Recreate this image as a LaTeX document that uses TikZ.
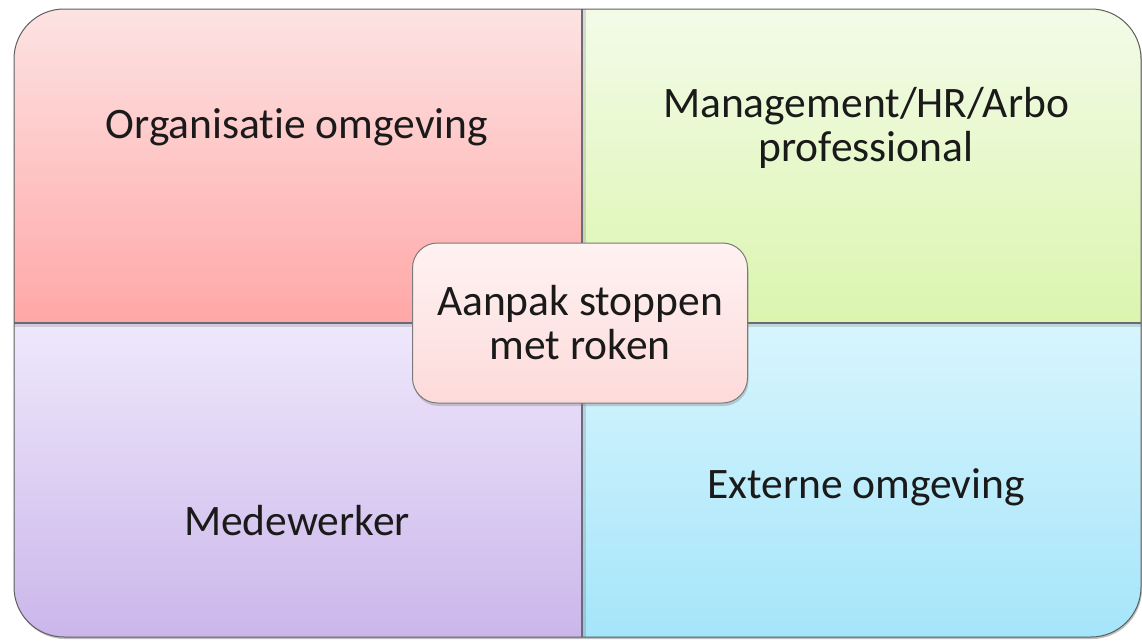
\documentclass[tikz,border=0pt]{standalone}
\usepackage{fontspec}
\setmainfont[Ligatures=NoCommon]{Carlito}
\usetikzlibrary{shadows}
\definecolor{textgray}{HTML}{1A1A1A}
\definecolor{framegray}{HTML}{5E5E5E}
\definecolor{divgray}{HTML}{6A6A78}
\definecolor{boxgray}{HTML}{7A7A7A}
\definecolor{orgtop}{HTML}{FDE3E3}
\definecolor{orgbot}{HTML}{FFA7A7}
\definecolor{mgmtop}{HTML}{F3FBE8}
\definecolor{mgmbot}{HTML}{DBF5AE}
\definecolor{medtop}{HTML}{EEE8FC}
\definecolor{medbot}{HTML}{CBB6EA}
\definecolor{exttop}{HTML}{D8F5FD}
\definecolor{extbot}{HTML}{A5E5FA}
\definecolor{boxtop}{HTML}{FFF2F2}
\definecolor{boxbot}{HTML}{FDDADA}
\begin{document}
\begin{tikzpicture}[
    x=1pt, y=-1pt,
    every node/.style={font=\fontsize{43.5}{44}\selectfont, text=textgray, inner sep=0pt},
    label text/.style={align=center, anchor=base},
    frame/.style={draw=framegray, line width=1pt, rounded corners=50pt},
    divider/.style={draw=divgray, line width=1.6pt},
    divider shade/.style={draw=black, opacity=0.12, line width=3pt},
    center box/.style={draw=boxgray, line width=1pt, rounded corners=25pt,
        top color=boxtop, bottom color=boxbot, minimum width=335pt,
        minimum height=160pt, align=center,
        drop shadow={shadow xshift=1pt, shadow yshift=-3pt, opacity=0.35}}
]
\useasboundingbox (0,0) rectangle (1142,640);
\coordinate (nw) at (14,9);
\coordinate (se) at (1141,637);
\coordinate (mid) at (582,323);

\fill[black, opacity=0.25, rounded corners=50pt] ([xshift=1pt, yshift=-2pt]nw) rectangle ([xshift=1pt, yshift=-2pt]se);
\begin{scope}
    \clip[rounded corners=50pt] (nw) rectangle (se);
    \shade[top color=orgtop, bottom color=orgbot] (nw) rectangle (mid);
    \shade[top color=mgmtop, bottom color=mgmbot] (mid |- nw) rectangle (se |- mid);
    \shade[top color=medtop, bottom color=medbot] (nw |- mid) rectangle (mid |- se);
    \shade[top color=exttop, bottom color=extbot] (mid) rectangle (se);
    \draw[divider shade] ([yshift=-2pt]nw |- mid) -- ([yshift=-2pt]se |- mid);
    \draw[divider shade] ([xshift=2pt]mid |- nw) -- ([xshift=2pt]mid |- se);
    \draw[divider] (nw |- mid) -- (se |- mid);
    \draw[divider] (mid |- nw) -- (mid |- se);
\end{scope}
\draw[frame] (nw) rectangle (se);

\node[label text] (org) at (297,138) {Organisatie omgeving};
\node[label text] (mgm) at (866,161) {Management/HR/Arbo\\professional};
\node[label text] (med) at (297,535) {Medewerker};
\node[label text] (ext) at (866,498) {Externe omgeving};
\node[center box] (aanpak) at (580,323) {Aanpak stoppen\\met roken};
\end{tikzpicture}
\end{document}
